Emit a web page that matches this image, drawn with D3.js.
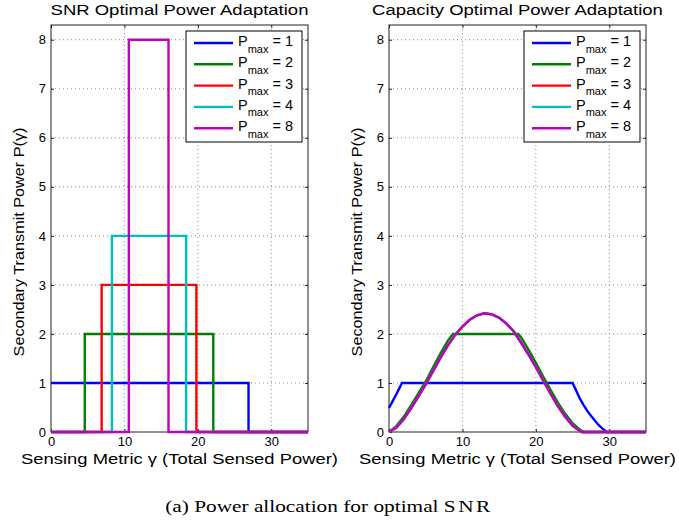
<!DOCTYPE html>
<html>
<head>
<meta charset="utf-8">
<script src="https://cdn.jsdelivr.net/npm/d3@7"></script>
<style>
  body { margin: 0; background: #fff; }
  svg { font-family: "Liberation Sans", Arial, sans-serif; }
</style>
</head>
<body>
<div id="my_dataviz"></div>
<script>
// legend values
const pmax = [1, 2, 3, 4, 8];
const xTicks = [0, 10, 20, 30];
const yTicks = [0, 1, 2, 3, 4, 5, 6, 7, 8];

// SNR optimal power: rectangular pulses, one per Pmax
const snrX = [
  [0, 26.9, 26.9, 35],
  [0, 4.6, 4.6, 22.1, 22.1, 35],
  [0, 6.9, 6.9, 19.8, 19.8, 35],
  [0, 8.3, 8.3, 18.4, 18.4, 35],
  [0, 10.6, 10.6, 16.0, 16.0, 35]
];
const snrY = [
  [1, 1, 0, 0],
  [0, 0, 2, 2, 0, 0],
  [0, 0, 3, 3, 0, 0],
  [0, 0, 4, 4, 0, 0],
  [0, 0, 8, 8, 0, 0]
];

// capacity optimal power
const capBlueX = [0, 0.5, 1, 1.5, 1.75, 25, 25.5, 26, 26.5, 27, 27.5, 28, 28.5, 29, 29.65, 35];
const capBlueY = [0.49, 0.63, 0.77, 0.92, 1, 1, 0.84, 0.68, 0.55, 0.43, 0.33, 0.24, 0.15, 0.08, 0, 0];
const capGreenX = [0, 1, 2, 3, 4, 5, 6, 7, 8, 8.7, 17.6, 18, 19, 20, 21, 22, 23, 24, 25, 26, 26.5, 35];
const capGreenY = [0, 0.12, 0.31, 0.54, 0.79, 1.03, 1.32, 1.6, 1.86, 2, 2, 1.93, 1.68, 1.41, 1.13, 0.86, 0.6, 0.37, 0.18, 0.05, 0, 0];
const capBellX = [0, 1, 2, 3, 4, 5, 6, 7, 8, 9, 10, 11, 12, 13, 14, 15, 16, 17, 18, 19, 20, 21, 22, 23, 24, 25, 26, 26.25, 35];
const capBellY = [0, 0.09, 0.26, 0.48, 0.72, 0.97, 1.24, 1.51, 1.76, 1.98, 2.15, 2.29, 2.38, 2.42, 2.40, 2.33, 2.21, 2.05, 1.82, 1.58, 1.32, 1.05, 0.78, 0.53, 0.31, 0.13, 0.02, 0, 0];
const capX = [capBlueX, capGreenX, capBellX, capBellX, capBellX];
const capY = [capBlueY, capGreenY, capBellY, capBellY, capBellY];

const colors = ["#0000ff", "#008000", "#ff0000", "#00bfbf", "#bf00bf"];

const W = 679, H = 529;
const svg = d3.select("#my_dataviz").append("svg")
  .attr("width", W).attr("height", H);

// text stretched to a given width
function fitText(parent, str, x, y, size, width, rot, family) {
  const t = parent.append("text")
    .attr("font-size", size)
    .attr("text-anchor", "middle")
    .attr("fill", "#000")
    .text(str);
  if (family) t.attr("font-family", family);
  const w = t.node().getComputedTextLength();
  t.attr("transform", `translate(${x},${y}) rotate(${rot || 0}) scale(${width / w},1)`);
  return t;
}

function panel(left, title, titleW, xs, ys) {
  const top = 25, pw = 257, ph = 407;
  const g = svg.append("g").attr("transform", `translate(${left},${top})`);
  const x = d3.scaleLinear().domain([0, 35]).range([0, pw]);
  const y = d3.scaleLinear().domain([0, 8.3]).range([ph, 0]);

  // grid
  g.selectAll(".gx").data(xTicks.filter(d => d > 0)).join("line")
    .attr("x1", d => x(d)).attr("x2", d => x(d))
    .attr("y1", 0).attr("y2", ph)
    .attr("stroke", "#8a8a8a").attr("stroke-dasharray", "1,3");
  g.selectAll(".gy").data(yTicks.filter(d => d > 0)).join("line")
    .attr("x1", 0).attr("x2", pw)
    .attr("y1", d => y(d)).attr("y2", d => y(d))
    .attr("stroke", "#8a8a8a").attr("stroke-dasharray", "1,3");

  // axes with inward ticks
  g.append("g").attr("transform", `translate(0,${ph})`)
    .call(d3.axisBottom(x).tickValues(xTicks).tickSize(-3).tickPadding(5).tickSizeOuter(0))
    .call(a => a.select(".domain").remove())
    .call(a => a.selectAll("text").attr("font-size", 13).attr("fill", "#000").attr("font-family", null));
  g.append("g").attr("transform", `translate(0,0)`)
    .call(d3.axisTop(x).tickValues(xTicks).tickSize(-3).tickFormat("").tickSizeOuter(0))
    .call(a => a.select(".domain").remove());
  g.append("g")
    .call(d3.axisLeft(y).tickValues(yTicks).tickSize(-3).tickPadding(5).tickSizeOuter(0))
    .call(a => a.select(".domain").remove())
    .call(a => a.selectAll("text").attr("font-size", 13).attr("fill", "#000").attr("font-family", null));
  g.append("g").attr("transform", `translate(${pw},0)`)
    .call(d3.axisRight(y).tickValues(yTicks).tickSize(-3).tickFormat("").tickSizeOuter(0))
    .call(a => a.select(".domain").remove());
  g.selectAll(".tick line").attr("stroke", "#222");

  g.append("rect").attr("width", pw).attr("height", ph)
    .attr("fill", "none").attr("stroke", "#222").attr("stroke-width", 1);

  // lines
  const line = d3.line().x(d => x(d[0])).y(d => y(d[1]));
  xs.forEach((xv, i) => {
    g.append("path")
      .datum(xv.map((v, j) => [v, ys[i][j]]))
      .attr("d", line)
      .attr("fill", "none")
      .attr("stroke", colors[i])
      .attr("stroke-width", 2.4);
  });

  // legend
  const lg = g.append("g").attr("transform", `translate(${pw - 122},6)`);
  lg.append("rect").attr("width", 116).attr("height", 111)
    .attr("fill", "#fff").attr("stroke", "#000").attr("stroke-width", 1);
  pmax.forEach((p, i) => {
    const yy = 12 + i * 21.3;
    lg.append("line").attr("x1", 8).attr("x2", 47).attr("y1", yy).attr("y2", yy)
      .attr("stroke", colors[i]).attr("stroke-width", 2.4);
    const t = lg.append("text").attr("x", 52).attr("y", yy + 3).attr("font-size", 14.5);
    t.append("tspan").text("P");
    t.append("tspan").attr("font-size", 11).attr("dy", 6.5).text("max");
    t.append("tspan").attr("dy", -6.5).text(" = " + p);
  });

  fitText(svg, title, left + pw / 2, 15, 15, titleW);
  fitText(svg, "Sensing Metric \u03b3 (Total Sensed Power)", left + pw / 2, 464, 15.5, 317);
  fitText(svg, "Secondary Transmit Power P(\u03b3)", left - 27, 242, 15, 229, -90);
}

panel(51, "SNR Optimal Power Adaptation", 258, snrX, snrY);
panel(389, "Capacity Optimal Power Adaptation", 291, capX, capY);

// caption
const cap = svg.append("text").attr("font-family", "'Liberation Serif', 'Times New Roman', serif")
  .attr("font-size", 17).attr("text-anchor", "middle");
cap.append("tspan").text("(a) Power allocation for optimal ");
cap.append("tspan").attr("letter-spacing", 2).text("SNR");
const cw = cap.node().getComputedTextLength();
cap.attr("transform", `translate(329,512) scale(${328 / cw},1)`);
</script>
</body>
</html>
